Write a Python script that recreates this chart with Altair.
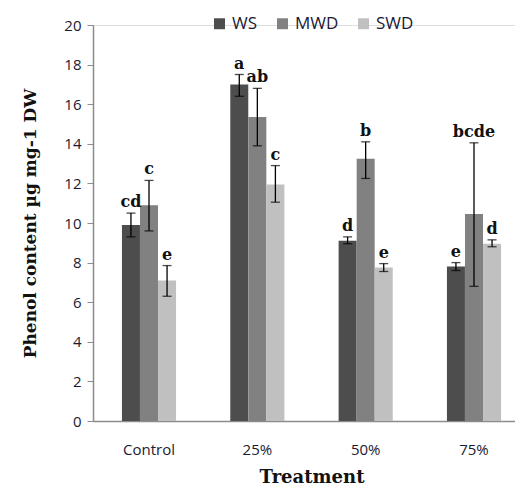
import altair as alt
import pandas as pd

treatments = ["Control", "25%", "50%", "75%"]
groups = ["WS", "MWD", "SWD"]
means = {
    "WS":  [9.9, 17.0, 9.1, 7.8],
    "MWD": [10.9, 15.35, 13.25, 10.45],
    "SWD": [7.1, 11.95, 7.75, 8.95],
}
lows = {
    "WS":  [9.3, 16.4, 8.95, 7.6],
    "MWD": [9.6, 13.9, 12.25, 6.8],
    "SWD": [6.3, 11.05, 7.55, 8.8],
}
highs = {
    "WS":  [10.5, 17.5, 9.3, 8.0],
    "MWD": [12.15, 16.8, 14.1, 14.05],
    "SWD": [7.85, 12.9, 7.95, 9.15],
}
letters = {
    "WS":  ["cd", "a", "d", "e"],
    "MWD": ["c", "ab", "b", "bcde"],
    "SWD": ["e", "c", "e", "d"],
}
colors = ["#4d4d4d", "#818181", "#c0c0c0"]
yticks = [0, 2, 4, 6, 8, 10, 12, 14, 16, 18, 20]

rows = []
for g in groups:
    for i, t in enumerate(treatments):
        rows.append({"Treatment": t, "Group": g, "Value": means[g][i],
                     "Low": lows[g][i], "High": highs[g][i], "Letter": letters[g][i]})
df = pd.DataFrame(rows)

xaxis = alt.Axis(title="Treatment", labelAngle=0, ticks=False, labelPadding=21,
                 labelFont="Open Sans", labelFontSize=15, labelColor="#1a1a33",
                 titleFont="DejaVu Serif", titleFontSize=18, titleFontWeight="bold",
                 titleColor="#111111", titlePadding=11,
                 domainColor="#8c8c8c", domainWidth=1.5)
xscale = alt.Scale(paddingInner=0.5, paddingOuter=0.267, range=[0, 437])
x = alt.X("Treatment:N", sort=treatments, scale=xscale, axis=xaxis)
xo = alt.XOffset("Group:N", sort=groups)
col = alt.Color("Group:N", sort=groups, scale=alt.Scale(domain=groups, range=colors),
                legend=alt.Legend(title=None, orient="none", legendX=118, legendY=-10,
                                  direction="horizontal", symbolType="square", symbolSize=120,
                                  symbolStrokeWidth=0, labelFont="Open Sans", labelFontSize=17,
                                  labelColor="#1a1a33", columnPadding=16, symbolOffset=0))

yaxis = alt.Axis(title="Phenol content µg mg-1 DW", values=yticks,
                 labelOverlap=False, grid=False, tickSize=6, tickColor="#8c8c8c",
                 domainColor="#8c8c8c", domainWidth=1.5, labelFont="Open Sans",
                 labelFontSize=15, labelColor="#1a1a33", labelPadding=6,
                 titleFont="DejaVu Serif", titleFontSize=17, titleFontWeight="bold",
                 titleColor="#111111", titlePadding=24)
yscale = alt.Scale(domain=[0, 20], nice=False)

def Y(field):
    return alt.Y(field, scale=yscale, axis=yaxis)

base = alt.Chart(df)
bars = base.mark_bar(size=18).encode(x=x, xOffset=xo, y=Y("Value:Q"), color=col)
rules = base.mark_rule(color="black", strokeWidth=1.3).encode(
    x=x, xOffset=xo, y=Y("Low:Q"), y2="High:Q")
capl = base.mark_tick(color="black", size=9, thickness=1.3).encode(
    x=x, xOffset=xo, y=Y("Low:Q"))
caph = base.mark_tick(color="black", size=9, thickness=1.3).encode(
    x=x, xOffset=xo, y=Y("High:Q"))
text = base.mark_text(font="DejaVu Serif", fontSize=16, fontWeight="bold",
                      baseline="bottom", dy=-3, color="#111111").encode(
    x=x, xOffset=xo, y=Y("High:Q"), text="Letter:N")

chart = alt.layer(bars, rules, capl, caph, text).properties(
    width=422, height=396,
    autosize=alt.AutoSizeParams(type="none"),
    padding={"left": 85, "top": 17, "right": 0, "bottom": 69},
).configure_view(stroke=None).configure(background="white")

chart.save("out.html", embed_options={"renderer": "svg", "actions": False})
